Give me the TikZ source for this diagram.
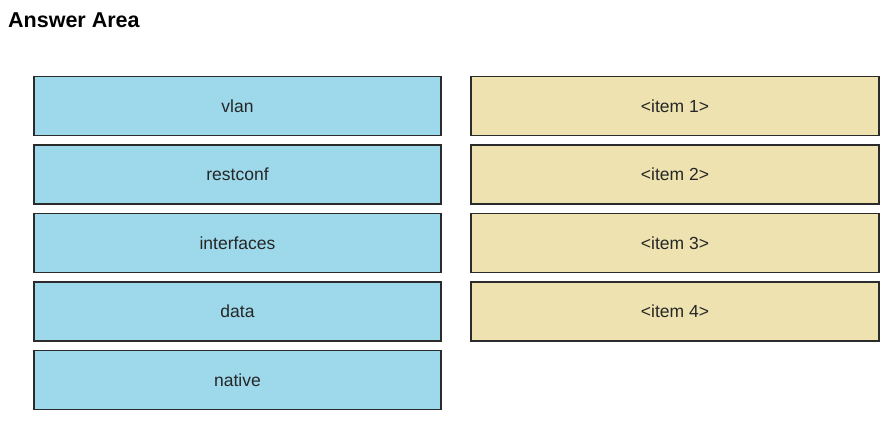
\documentclass[tikz,border=0pt]{standalone}
\usepackage{fontspec}
\setmainfont{Liberation Sans}
\usepackage{tikz}
\usepackage{xcolor}
\usetikzlibrary{positioning}

\definecolor{keyblue}{HTML}{9DD9EA}
\definecolor{slottan}{HTML}{EEE3B0}
\definecolor{boxedge}{HTML}{2B2B2B}

\tikzset{
    keybox/.style={draw=boxedge, line width=1.3pt, fill=keyblue,
        minimum width=407pt, minimum height=59pt, inner sep=0pt,
        font=\fontsize{17.5}{20}\selectfont, text=black!85},
    slotbox/.style={keybox, fill=slottan, minimum width=408pt}
}

\begin{document}
\begin{tikzpicture}[x=1pt, y=-1pt]
                        \useasboundingbox (0, 0) rectangle (890, 424);

                        \node[anchor=base west, inner sep=0pt, font=\fontsize{21.5}{26}\selectfont\bfseries] (title) at (8, 27) {Answer Area};

                        \node[keybox] (vlan) at (237.5, 106) {vlan};
                        \node[keybox] (restconf) at (237.5, 174.5) {restconf};
                        \node[keybox] (interfaces) at (237.5, 243) {interfaces};
                        \node[keybox] (data) at (237.5, 311.5) {data};
                        \node[keybox] (native) at (237.5, 380) {native};

                        \node[slotbox] (item1) at (675, 106) {<item 1>};
                        \node[slotbox] (item2) at (675, 174.5) {<item 2>};
                        \node[slotbox] (item3) at (675, 243) {<item 3>};
                        \node[slotbox] (item4) at (675, 311.5) {<item 4>};
                    \end{tikzpicture}
\end{document}
